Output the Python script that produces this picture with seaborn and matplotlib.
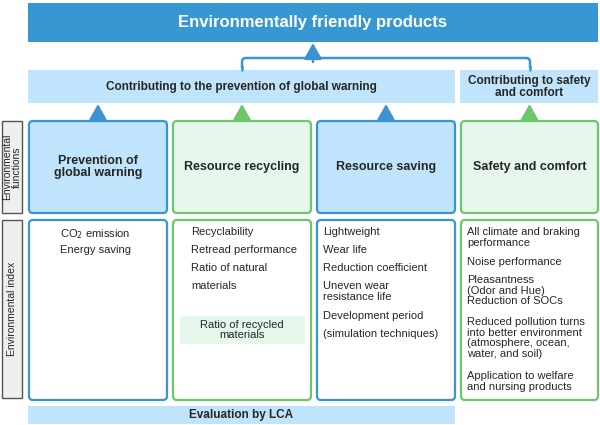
import matplotlib

matplotlib.use("Agg")

import matplotlib.pyplot as plt
import seaborn as sns
from matplotlib.patches import FancyBboxPatch, Rectangle

sns.set_style("white")
plt.rcParams["font.family"] = "Liberation Sans"

TITLE = "Environmentally friendly products"
GROUPS = ["Contributing to the prevention of global warning", "Contributing to safety\nand comfort"]
FUNCTIONS = ["Prevention of\nglobal warning", "Resource recycling", "Resource saving", "Safety and comfort"]
INDEX_ITEMS = [
    ["CO$_2$ emission", "Energy saving"],
    ["Recyclability", "Retread performance", "Ratio of natural", "materials"],
    ["Lightweight", "Wear life", "Reduction coefficient", "Uneven wear\nresistance life",
     "Development period", "(simulation techniques)"],
    ["All climate and braking\nperformance", "Noise performance",
     "Pleasantness\n(Odor and Hue)\nReduction of SOCs",
     "Reduced pollution turns\ninto better environment\n(atmosphere, ocean,\nwater, and soil)",
     "Application to welfare\nand nursing products"],
]
RECYCLED_NOTE = "Ratio of recycled\nmaterials"
ROW_LABELS = ["Environmental\nfunctions", "Environmental index"]
FOOTER = "Evaluation by LCA"

BLUE = "#3a94d2"
BLUE_FILL = "#c0e4fb"
GREEN = "#6cc66c"
GREEN_FILL = "#e6f7ec"
DARK = "#3797d3"

fig = plt.figure(figsize=(6, 4.25), dpi=100)
ax = fig.add_axes([0, 0, 1, 1])
ax.set_xlim(0, 600)
ax.set_ylim(425, 0)
ax.axis("off")


def rbox(x0, y0, x1, y1, edge, fill, lw=1.6):
    ax.add_patch(FancyBboxPatch((x0 + 4, y0 + 4), x1 - x0 - 8, y1 - y0 - 8,
                                boxstyle="round,pad=4", ec=edge, fc=fill, lw=lw))


def arrow(x, y0, y1, color):
    ax.annotate("", xy=(x, y1), xytext=(x, y0),
                arrowprops=dict(arrowstyle="-|>,head_width=0.45,head_length=0.8",
                                color=color, lw=1.8, mutation_scale=12,
                                shrinkA=0, shrinkB=0))


# top banner
ax.add_patch(Rectangle((28, 3), 570, 39, fc=DARK, ec="none"))
ax.text(313, 22, TITLE, ha="center", va="center", color="white", fontsize=12, fontweight="bold")
arrow(313, 62, 43, BLUE)
ax.plot([242, 242], [70, 66], color=BLUE, lw=1.8)
ax.plot([530, 530], [70, 66], color=BLUE, lw=1.8)
ax.add_patch(FancyBboxPatch((246, 62), 280, 20, boxstyle="round,pad=4",
                            ec=BLUE, fc="none", lw=1.8))
ax.add_patch(Rectangle((236, 68), 300, 30, fc="white", ec="none"))

# group bars
ax.add_patch(Rectangle((28, 70), 427, 33, fc=BLUE_FILL, ec="none"))
ax.add_patch(Rectangle((460, 70), 138, 33, fc=BLUE_FILL, ec="none"))
ax.text(241, 87, GROUPS[0], ha="center", va="center", fontsize=8.5, fontweight="bold")
ax.text(529, 87, GROUPS[1], ha="center", va="center", fontsize=8.5, fontweight="bold",
        linespacing=1.0)

cols = [(29, 167), (173, 311), (317, 455), (461, 598)]
edges = [BLUE, GREEN, BLUE, GREEN]
fills = [BLUE_FILL, GREEN_FILL, BLUE_FILL, GREEN_FILL]
offsets = [31, 18, 6, 6]
for (x0, x1), ec, fc, name in zip(cols, edges, fills, FUNCTIONS):
    xc = (x0 + x1) / 2
    arrow(xc, 120, 104, ec)
    rbox(x0, 121, x1, 213, ec, fc)
    ax.text(xc, 167, name, ha="center", va="center", fontsize=9, fontweight="bold",
            linespacing=1.0)
    rbox(x0, 220, x1, 400, ec, "white")

# index text lines
for (x0, _), off, items in zip(cols, offsets, INDEX_ITEMS):
    y = 227
    for item in items:
        ax.text(x0 + off, y, item, ha="left", va="top", fontsize=8, linespacing=1.08)
        y += 12 * (item.count("\n") + 1) + 6

ax.add_patch(Rectangle((180, 316), 125, 28, fc=GREEN_FILL, ec="none"))
ax.text(242, 330, RECYCLED_NOTE, ha="center", va="center", fontsize=8, linespacing=1.0)

# row labels
for (y0, y1), label in zip([(121, 213), (220, 398)], ROW_LABELS):
    ax.add_patch(Rectangle((2, y0), 20, y1 - y0, fc="#efefef", ec="#555555", lw=1.0))
    ax.text(12, (y0 + y1) / 2, label, ha="center", va="center", rotation=90,
            fontsize=7.5, linespacing=0.85)

ax.add_patch(Rectangle((28, 406), 427, 18, fc=BLUE_FILL, ec="none"))
ax.text(241, 415, FOOTER, ha="center", va="center", fontsize=8.5, fontweight="bold")

fig.savefig("out.png", dpi=100)
